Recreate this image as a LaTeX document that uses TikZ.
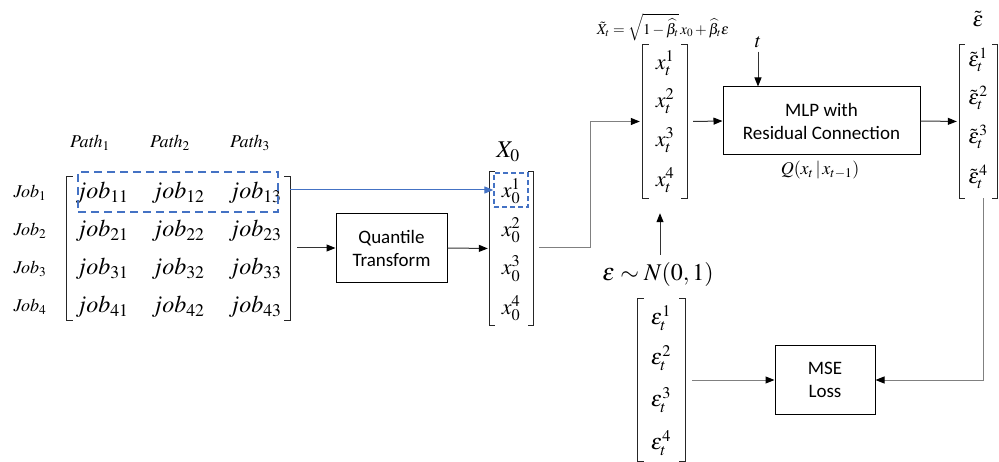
\documentclass[tikz,border=0pt]{standalone}
\usepackage{mathptmx}
\usepackage[no-math]{fontspec}
\setmainfont{Carlito}
\usetikzlibrary{arrows.meta}
\definecolor{bl}{HTML}{4472C4}
\newcommand\brk[2][6]{%
  \draw[brkline] ([xshift=#1pt]#2.north west) -- (#2.north west) -- (#2.south west) -- ([xshift=#1pt]#2.south west);
  \draw[brkline] ([xshift=-#1pt]#2.north east) -- (#2.north east) -- (#2.south east) -- ([xshift=-#1pt]#2.south east);}
\begin{document}
\begin{tikzpicture}[x=1pt,y=-1pt,
  conn/.style={draw=black!80, line width=1pt, -{Triangle[length=9pt,width=7pt,color=black]}},
  gconn/.style={draw=black!50, line width=1pt, -{Triangle[length=9pt,width=7pt,color=black]}},
  bconn/.style={draw=bl, line width=1pt, -{Triangle[length=9pt,width=7pt,color=bl]}},
  box/.style={draw, line width=1pt, align=center, font=\fontsize{19}{23}\selectfont, inner sep=0},
  brkline/.style={draw=black!85, line width=1.2pt},
  big/.style={font=\fontsize{24}{28}\selectfont, inner sep=0},
  mid/.style={font=\fontsize{22}{26}\selectfont, inner sep=0},
  lab/.style={font=\fontsize{18}{22}\selectfont, inner sep=0},
  vec/.style={inner sep=0}
]
\useasboundingbox (0,0) rectangle (999,462);

% left matrix
\node[vec, minimum width=223pt, minimum height=143pt] (M) at (178.5,248.5) {};
\brk{M}
\foreach \r/\y in {1/193,2/231,3/269,4/307}{
  \foreach \c/\x in {1/102,2/178,3/255}{
    \node[big] (j\r\c) at (\x,\y) {$job_{\r\c}$};
  }
  \node[lab] (J\r) at (30,\y) {$\mathit{Job}_{\r}$};
}
\foreach \c/\x in {1/90,2/170,3/250}{
  \node[lab] (P\c) at (\x,143) {$\mathit{Path}_{\c}$};
}
\node[draw=bl, line width=1.3pt, dash pattern=on 8pt off 5pt, minimum width=200pt, minimum height=40pt, inner sep=0] (sel) at (178,192) {};

% quantile transform
\node[box, minimum width=111pt, minimum height=69pt] (QT) at (391.5,248) {Quantile\\Transform};
\coordinate (c0) at (297,248);
\draw[conn] (c0) -- (QT.west);

% X0 vector
\node[vec, minimum width=43pt, minimum height=153pt] (V0) at (511.5,248.5) {};
\brk[5]{V0}
\foreach \i/\y in {1/191,2/230,3/269,4/308}{
  \node[mid] (x0\i) at (511,\y) {$x_0^{\i}$};
}
\node[draw=bl, line width=1.3pt, dash pattern=on 5pt off 3pt, minimum width=34pt, minimum height=34pt, inner sep=0] (x0sel) at (511,190) {};
\node[big] (X0) at (508,152) {$X_0$};
\draw[bconn] (M.east |- x0sel.west) -- (x0sel.west);
\draw[conn, shorten >=2pt] (QT.east) -- (V0.west);

% xt vector
\node[vec, minimum width=44pt, minimum height=153pt] (Vt) at (665,121.5) {};
\brk{Vt}
\foreach \i/\y in {1/63,2/101,3/140,4/180}{
  \node[mid] (xt\i) at (665,\y) {$x_t^{\i}$};
}
\node[font=\fontsize{15}{18}\selectfont, inner sep=0] (form) at (663,27) {$\tilde{X}_t=\sqrt{1-\widehat{\beta}_t}\,x_0+\widehat{\beta}_t\varepsilon$};
\coordinate (c1) at (539,248);
\coordinate (k1) at (590,121.5);
\draw[gconn, shorten >=3pt] (c1) -| (k1) -- (Vt.west);

% MLP
\node[box, minimum width=197pt, minimum height=68pt] (MLP) at (821.5,121) {MLP with\\Residual Connection};
\draw[conn] ([xshift=6pt]Vt.east) -- (MLP.west);
\node[font=\fontsize{20}{24}\selectfont, inner sep=0] (t) at (758,42) {$t$};
\draw[conn] ([yshift=-4pt]t.south) -- (t.south |- MLP.north);
\node[font=\fontsize{18}{22}\selectfont, inner sep=0] (Qlab) at (820,170) {$Q(x_t\,|\,x_{t-1})$};

% eps tilde vector
\node[vec, minimum width=37pt, minimum height=153pt] (Et) at (978.5,121.5) {};
\brk[5]{Et}
\foreach \i/\y in {1/60,2/98,3/137,4/177}{
  \node[font=\fontsize{21}{24}\selectfont, inner sep=0] (et\i) at (978,\y) {$\tilde{\varepsilon}_t^{\i}$};
}
\node[font=\fontsize{21}{24}\selectfont, inner sep=0] (etl) at (978,19) {$\tilde{\varepsilon}$};
\draw[conn, shorten >=3pt] (MLP.east) -- (Et.west);

% noise
\node[big] (N) at (658,275) {$\varepsilon\sim N(0,1)$};
\draw[conn, shorten >=15pt] ([xshift=2pt,yshift=8pt]N.north) -- ([xshift=2pt]N.north |- Vt.south);

% eps vector
\node[vec, minimum width=47pt, minimum height=162pt] (Ep) at (661.5,380) {};
\brk{Ep}
\foreach \i/\y in {1/318,2/358,3/400,4/443}{
  \node[mid] (ep\i) at (661,\y) {$\varepsilon_t^{\i}$};
}

% MSE
\node[box, minimum width=100pt, minimum height=68pt] (MSE) at (825,380) {MSE\\Loss};
\draw[gconn] ([xshift=7pt]Ep.east) -- (MSE.west);
\draw[gconn] ([xshift=4.5pt]Et.south) |- (MSE.east);
\end{tikzpicture}
\end{document}
